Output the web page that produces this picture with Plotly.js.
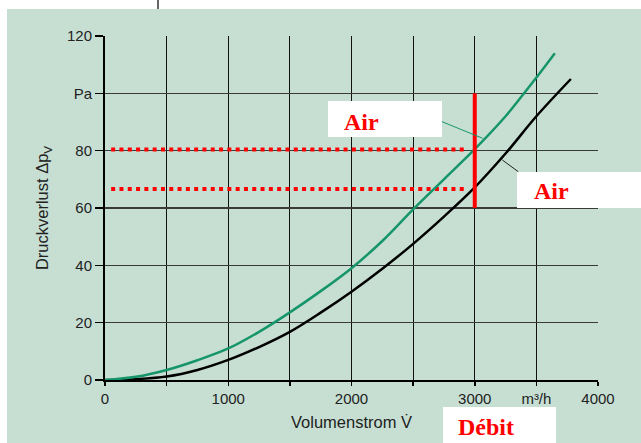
<!DOCTYPE html>
<html>
<head>
<meta charset="utf-8">
<script src="https://cdn.plot.ly/plotly-3.0.1.min.js"></script>
<style>html,body{margin:0;padding:0;background:#fff;}#chart{width:641px;height:443px;}</style>
</head>
<body>
<div id="chart"></div>
<script>
// ---- data ----
const greenX = [0, 250, 500, 750, 1000, 1250, 1500, 1750, 2000, 2250, 2500, 2750, 3000, 3250, 3400, 3500, 3650];
const greenY = [0, 1.1, 3.5, 6.9, 11, 16.8, 23.6, 31, 39, 48.5, 59.5, 70, 80.5, 92, 100, 105.5, 114];
const blackX = [0, 250, 500, 750, 1000, 1250, 1500, 1750, 2000, 2250, 2500, 2750, 3000, 3250, 3500, 3780];
const blackY = [0, 0.3, 1.2, 3.5, 7, 11.5, 16.8, 23.5, 30.8, 38.8, 47.5, 57, 67.2, 79, 92, 105];
const redLineX = [3000, 3000];
const redLineY = [60, 100];
const dotUpperX = [50, 2935];
const dotUpperY = [80.4, 80.4];
const dotLowerX = [50, 2935];
const dotLowerY = [66.6, 66.6];
const xTickVals = [0, 1000, 2000, 3000, 3500, 4000];
const xTickText = ['0', '1000', '2000', '3000', 'm³/h', '4000'];
const xMinorVals = [500, 1500, 2500];
const yTickVals = [0, 20, 40, 60, 80, 100, 120];
const yTickText = ['0', '20', '40', '60', '80', 'Pa', '120'];
const labelAir1 = 'Air';
const labelAir2 = 'Air';
const labelDebit = 'Débit';

// ---- layout helpers (pixel -> paper fraction) ----
const W = 641, H = 443, ML = 105, MR = 43, MT = 36, MB = 63;
const PW = W - ML - MR, PH = H - MT - MB;
const px = p => (p - ML) / PW;
const py = p => 1 - (p - MT) / PH;

const GREEN = '#16956b';
const PANEL = '#c7dfd3';
const RED = '#ff0000';

const traces = [
  {x: dotUpperX, y: dotUpperY, mode: 'lines', line: {color: RED, width: 4, dash: '4px,4.3px'}, hoverinfo: 'skip'},
  {x: dotLowerX, y: dotLowerY, mode: 'lines', line: {color: RED, width: 4, dash: '4px,4.3px'}, hoverinfo: 'skip'},
  {x: blackX, y: blackY, mode: 'lines', line: {color: '#000', width: 2.5, shape: 'spline'}},
  {x: greenX, y: greenY, mode: 'lines', line: {color: GREEN, width: 2.5, shape: 'spline'}},
  {x: redLineX, y: redLineY, mode: 'lines', line: {color: RED, width: 4}}
];

const rect = (x0, x1, y0, y1) => ({type: 'rect', xref: 'paper', yref: 'paper',
  x0: px(x0), x1: px(x1), y0: py(y1), y1: py(y0), fillcolor: '#fff', line: {width: 0}});
const seg = (x0, y0, x1, y1, color, width) => ({type: 'line', xref: 'paper', yref: 'paper',
  x0: px(x0), y0: py(y0), x1: px(x1), y1: py(y1), line: {color: color, width: width}});

const shapes = [
  rect(0, 641, 0, 9),
  rect(0, 7, 0, 443),
  seg(158, 0, 158, 9, '#333', 1.5),
  rect(328, 442, 101, 137),
  rect(517, 641, 172, 208),
  rect(443, 556, 407, 443),
  seg(442, 121.7, 482.7, 138.3, GREEN, 1),
  seg(502.3, 160, 518.3, 171.7, '#222', 1)
];

const serif = {family: 'Liberation Serif, Times New Roman, serif', size: 24, color: RED, weight: 'bold'};
const ann = (text, x, y) => ({text: '<b>' + text + '</b>', xref: 'paper', yref: 'paper', x: px(x), y: py(y),
  xanchor: 'left', yanchor: 'middle', showarrow: false, font: serif, borderpad: 0});

const annotations = [
  ann(labelAir1, 343, 122),
  ann(labelAir2, 532.5, 191),
  ann(labelDebit, 456.5, 427.5)
];

const axisFont = {family: 'Liberation Sans, Arial, sans-serif', size: 15, color: '#222'};
const titleFont = {family: 'Liberation Sans, Arial, sans-serif', size: 16.5, color: '#222'};
const layout = {
  width: W, height: H,
  margin: {l: ML, r: MR, t: MT, b: MB, pad: 0},
  paper_bgcolor: PANEL,
  plot_bgcolor: 'rgba(0,0,0,0)',
  showlegend: false,
  xaxis: {
    range: [0, 4000], tickmode: 'array', tickvals: xTickVals, ticktext: xTickText,
    ticks: 'outside', ticklen: 4, tickwidth: 1.5, tickcolor: '#000',
    showgrid: true, gridcolor: '#111', gridwidth: 1.2, zeroline: false,
    minor: {tickmode: 'array', tickvals: xMinorVals, ticks: 'outside', ticklen: 4, tickwidth: 1.5, tickcolor: '#000',
            showgrid: true, gridcolor: '#111', gridwidth: 1.2},
    showline: true, linecolor: '#000', linewidth: 2,
    tickfont: axisFont, fixedrange: true,
    title: {text: 'Volumenstrom V̇', font: titleFont, standoff: 10}
  },
  yaxis: {
    range: [0, 120], tickmode: 'array', tickvals: yTickVals, ticktext: yTickText,
    ticks: 'outside', ticklen: 8, tickwidth: 1.5, tickcolor: '#000',
    showgrid: true, gridcolor: '#3a3a3a', gridwidth: 1.4, zeroline: false,
    showline: true, linecolor: '#000', linewidth: 2,
    tickfont: axisFont, fixedrange: true,
    title: {text: 'Druckverlust Δp<sub>V</sub>', font: titleFont, standoff: 14}
  },
  shapes: shapes,
  annotations: annotations
};

Plotly.newPlot('chart', traces, layout, {displayModeBar: false, staticPlot: true});
</script>
</body>
</html>
